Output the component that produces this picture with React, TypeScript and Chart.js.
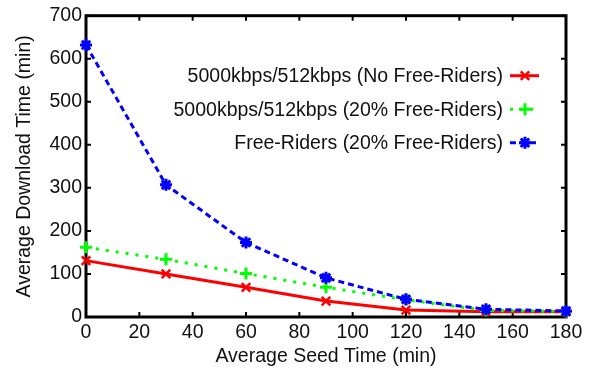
import React, { useEffect, useRef } from "react";
import { Chart, registerables } from "chart.js";

Chart.register(...registerables);

const seedTimes = [0, 30, 60, 90, 120, 150, 180];
const noFreeRiders = [131, 100, 69, 37, 16, 12, 12];
const twentyPctCompliant = [162, 134, 101, 69, 40, 15, 13];
const twentyPctFreeRiders = [632, 307, 173, 91, 41, 18, 14];
const seriesLabels = [
  "5000kbps/512kbps (No Free-Riders)",
  "5000kbps/512kbps (20% Free-Riders)",
  "Free-Riders (20% Free-Riders)",
];
const xTickValues = [0, 20, 40, 60, 80, 100, 120, 140, 160, 180];
const yTickValues = [0, 100, 200, 300, 400, 500, 600, 700];
const xTitle = "Average Seed Time (min)";
const yTitle = "Average Download Time (min)";

const FONT = "'Liberation Sans', Arial, Helvetica, sans-serif";
const FSIZE = 19.5;
const TEXT = "#111111";

const toPoints = (ys: number[]) => seedTimes.map((x, i) => ({ x, y: ys[i] }));

const frame = {
  id: "frame",
  beforeDatasetsDraw(chart: any) {
    const { ctx, chartArea: a, scales } = chart;
    ctx.save();
    ctx.strokeStyle = "#000";
    ctx.lineWidth = 2;
    const tl = 5;
    for (const v of xTickValues) {
      const px = scales.x.getPixelForValue(v);
      ctx.beginPath();
      ctx.moveTo(px, a.bottom);
      ctx.lineTo(px, a.bottom - tl);
      ctx.moveTo(px, a.top);
      ctx.lineTo(px, a.top + tl);
      ctx.stroke();
    }
    for (const v of yTickValues) {
      const py = scales.y.getPixelForValue(v);
      ctx.beginPath();
      ctx.moveTo(a.left, py);
      ctx.lineTo(a.left + tl, py);
      ctx.moveTo(a.right, py);
      ctx.lineTo(a.right - tl, py);
      ctx.stroke();
    }
    ctx.lineWidth = 3;
    ctx.strokeRect(a.left, a.top, a.right - a.left, a.bottom - a.top);
    ctx.restore();
  },
};

function drawMarker(ctx: CanvasRenderingContext2D, style: string, x: number, y: number, r: number) {
  ctx.beginPath();
  const d = r * Math.SQRT1_2;
  if (style === "crossRot" || style === "star") {
    ctx.moveTo(x - d, y - d);
    ctx.lineTo(x + d, y + d);
    ctx.moveTo(x - d, y + d);
    ctx.lineTo(x + d, y - d);
  }
  if (style === "cross" || style === "star") {
    ctx.moveTo(x, y - r);
    ctx.lineTo(x, y + r);
    ctx.moveTo(x - r, y);
    ctx.lineTo(x + r, y);
  }
  ctx.stroke();
}

const customLegend = {
  id: "customLegend",
  afterDraw(chart: any) {
    const { ctx, chartArea: a } = chart;
    ctx.save();
    chart.data.datasets.forEach((ds: any, i: number) => {
      const y = a.top + 60 + i * 33.5;
      ctx.font = `${FSIZE}px ${FONT}`;
      ctx.fillStyle = TEXT;
      ctx.textAlign = "right";
      ctx.textBaseline = "middle";
      ctx.fillText(ds.label, a.right - 63, y + 1);
      ctx.strokeStyle = ds.borderColor;
      ctx.lineWidth = ds.borderWidth;
      ctx.setLineDash(ds.borderDash || []);
      ctx.beginPath();
      ctx.moveTo(a.right - 56, y);
      ctx.lineTo(a.right - 27, y);
      ctx.stroke();
      ctx.setLineDash([]);
      ctx.lineWidth = ds.pointBorderWidth;
      drawMarker(ctx, ds.pointStyle, a.right - 41, y, ds.pointRadius);
    });
    ctx.restore();
  },
};

export default function App() {
  const ref = useRef<HTMLCanvasElement | null>(null);
  useEffect(() => {
    if (!ref.current) return;
    const chart = new Chart(ref.current, {
      type: "line",
      data: {
        datasets: [
          {
            label: seriesLabels[0],
            data: toPoints(noFreeRiders),
            borderColor: "#ff0000",
            backgroundColor: "#ff0000",
            borderWidth: 3,
            pointStyle: "crossRot",
            pointRadius: 6,
            pointBorderWidth: 2.5,
            pointBorderColor: "#ff0000",
            order: 3,
            clip: false,
          },
          {
            label: seriesLabels[1],
            data: toPoints(twentyPctCompliant),
            borderColor: "#00ff00",
            backgroundColor: "#00ff00",
            borderWidth: 3,
            borderDash: [3, 7],
            pointStyle: "cross",
            pointRadius: 6,
            pointBorderWidth: 3,
            pointBorderColor: "#00ff00",
            order: 2,
            clip: false,
          },
          {
            label: seriesLabels[2],
            data: toPoints(twentyPctFreeRiders),
            borderColor: "#0000ff",
            backgroundColor: "#0000ff",
            borderWidth: 3,
            borderDash: [6, 4],
            pointStyle: "star",
            pointRadius: 6,
            pointBorderWidth: 3,
            pointBorderColor: "#0000ff",
            order: 1,
            clip: false,
          },
        ] as any,
      },
      options: {
        animation: false,
        responsive: false,
        maintainAspectRatio: false,
        layout: { padding: { left: 0, top: 15, right: 27, bottom: 0 } },
        plugins: {
          legend: { display: false },
          tooltip: { enabled: false },
        },
        elements: { line: { tension: 0 } },
        scales: {
          x: {
            type: "linear",
            min: 0,
            max: 180,
            afterBuildTicks: (s: any) => {
              s.ticks = xTickValues.map((v) => ({ value: v }));
            },
            afterFit: (s: any) => {
              s.height = 51;
            },
            grid: { display: false, drawTicks: false },
            border: { display: false },
            ticks: {
              color: TEXT,
              font: { family: FONT, size: FSIZE },
              padding: 4,
              maxRotation: 0,
              autoSkip: false,
            },
            title: {
              display: true,
              text: xTitle,
              color: TEXT,
              font: { family: FONT, size: FSIZE },
              padding: { top: 0, bottom: 0 },
            },
          },
          y: {
            type: "linear",
            min: 0,
            max: 700,
            afterBuildTicks: (s: any) => {
              s.ticks = yTickValues.map((v) => ({ value: v }));
            },
            afterFit: (s: any) => {
              s.width = 86;
            },
            grid: { display: false, drawTicks: false },
            border: { display: false },
            ticks: {
              color: TEXT,
              font: { family: FONT, size: FSIZE },
              padding: 4,
              autoSkip: false,
            },
            title: {
              display: true,
              text: yTitle,
              color: TEXT,
              font: { family: FONT, size: FSIZE },
              padding: { top: 13, bottom: 0 },
            },
          },
        },
      },
      plugins: [frame, customLegend],
    });
    return () => chart.destroy();
  }, []);
  return (
    <div style={{ position: "absolute", left: 0, top: 0, width: 593, height: 368, background: "#fff" }}>
      <canvas ref={ref} width={593} height={368} style={{ width: 593, height: 368, display: "block" }} />
    </div>
  );
}
